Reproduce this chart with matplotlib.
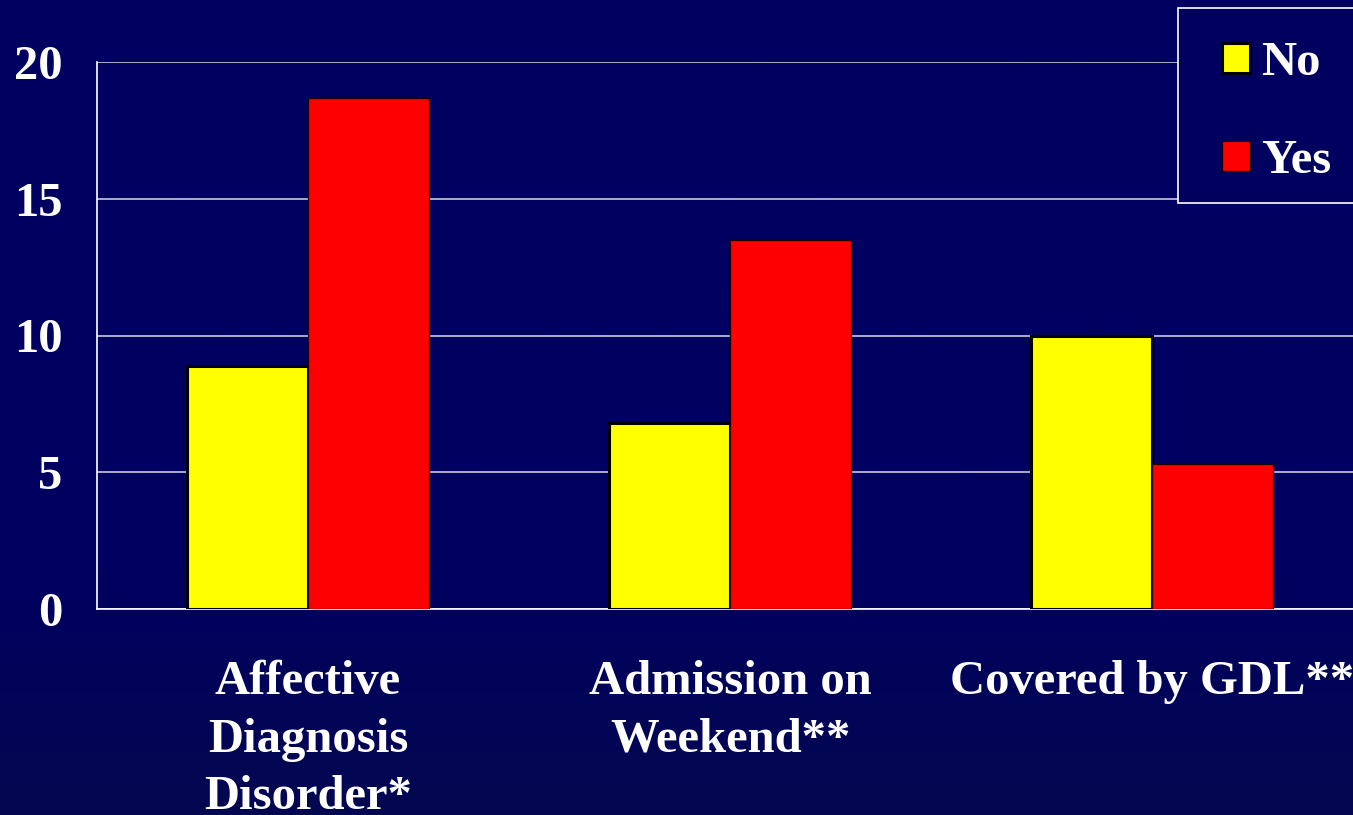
import numpy as np
import matplotlib
matplotlib.use("Agg")
import matplotlib.pyplot as plt
from matplotlib.patches import Rectangle

# Data
categories = ["Affective\nDiagnosis\nDisorder*", "Admission on\nWeekend**", "Covered by GDL**"]
no_values = [8.9, 6.8, 10.0]
yes_values = [18.7, 13.5, 5.3]
series_labels = ["No", "Yes"]
y_ticks = [0, 5, 10, 15, 20]

NAVY = "#00005f"
FONT = "Liberation Serif"
FS = 35

W, H = 1353, 815
fig = plt.figure(figsize=(W / 100, H / 100), dpi=100)
fig.patch.set_facecolor(NAVY)

# Subtle vertical background gradient
bg = fig.add_axes([0, 0, 1, 1], zorder=-10)
top = np.array([0x00, 0x00, 0x60]) / 255
bot = np.array([0x04, 0x08, 0x50]) / 255
t = np.clip((np.linspace(0, 1, 400) - 0.7) / 0.3, 0, 1)[:, None]
grad = (1 - t) * top + t * bot
bg.imshow(grad[:, None, :], aspect="auto", extent=[0, 1, 0, 1], origin="upper")
bg.set_axis_off()

ax = fig.add_axes([97 / W, (H - 609) / H, (1363 - 97) / W, (609 - 62) / H])
ax.set_facecolor("none")

x = np.arange(len(categories))
w = 0.287
ax.bar(x - w / 2, no_values, w, color="#ffff00", edgecolor="black", linewidth=2.2,
       label=series_labels[0], zorder=3)
ax.bar(x + w / 2, yes_values, w, color="#ff0000", edgecolor="#200000", linewidth=0.9,
       label=series_labels[1], zorder=3)

ax.set_xlim(-0.5, 2.5)
ax.set_ylim(0, 20)
ax.set_yticks(y_ticks)
ax.yaxis.grid(True, color="#c8c8dc", linewidth=1.2, zorder=0)
ax.set_axisbelow(True)

for s in ["top", "right"]:
    ax.spines[s].set_visible(False)
for s in ["left", "bottom"]:
    ax.spines[s].set_color("white")
    ax.spines[s].set_linewidth(1.2)

ax.set_xticks(x)
ax.set_xticklabels(categories, linespacing=1.39)
ax.tick_params(axis="both", length=0, colors="white")
ax.tick_params(axis="x", pad=37)
ax.tick_params(axis="y", pad=25)
for lbl in ax.get_xticklabels() + ax.get_yticklabels():
    lbl.set_fontfamily(FONT)
    lbl.set_fontweight("bold")
    lbl.set_fontsize(FS)
    lbl.set_color("white")

# Legend box
fig.patches.append(Rectangle((1178 / W, 1 - 203 / H), 200 / W, (203 - 8) / H,
                             transform=fig.transFigure, facecolor=NAVY,
                             edgecolor="white", linewidth=1.2, zorder=5))
handles, labels = ax.get_legend_handles_labels()
leg = fig.legend(handles, labels, loc="upper left",
                 bbox_to_anchor=(1222 / W, 1 - 41 / H), frameon=False,
                 prop={"family": FONT, "weight": "bold", "size": FS},
                 handlelength=0.58, handleheight=0.58, handletextpad=0.22,
                 labelspacing=1.12, borderpad=0, borderaxespad=0)
leg.set_zorder(6)
for txt in leg.get_texts():
    txt.set_color("white")

fig.savefig("out.png", dpi=100, facecolor=fig.get_facecolor())
